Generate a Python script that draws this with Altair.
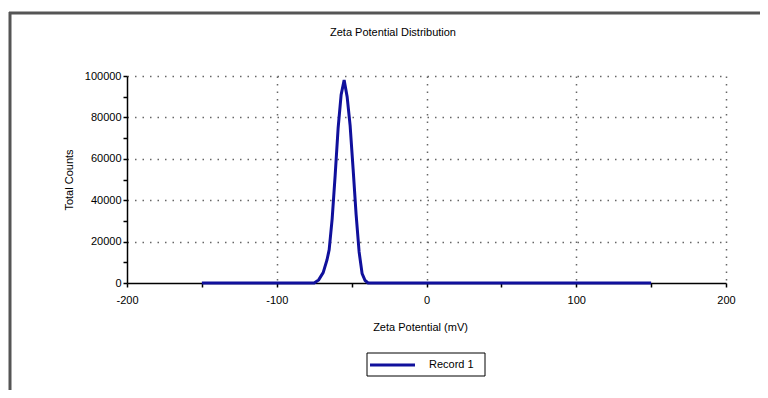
import altair as alt
import pandas as pd

# Data
zeta_mv = [-150, -75, -72, -69, -66.5, -65, -63, -61, -59, -57, -55, -53, -51, -49, -47, -45, -43, -41, -39, 150]
counts = [0, 0, 1500, 5000, 11000, 16000, 31000, 52000, 75000, 91000, 98000, 90000, 76000, 55000, 33000, 15000, 4500, 1200, 0, 0]
series_name = "Record 1"
chart_title = "Zeta Potential Distribution"

x_ticks = [-200, -150, -100, -50, 0, 50, 100, 150, 200]
y_ticks = list(range(0, 100001, 10000))

FONT = "Liberation Sans"
BLUE = "#10109c"

df = pd.DataFrame({"zeta": zeta_mv, "counts": counts, "series": [series_name] * len(zeta_mv)})

line = alt.Chart(df).mark_line(strokeWidth=3, clip=False, color=BLUE).encode(
    x=alt.X(
        "zeta:Q",
        scale=alt.Scale(domain=[-200, 200], nice=False, zero=False),
        axis=alt.Axis(
            title="Zeta Potential (mV)",
            values=x_ticks,
            labelExpr="datum.value % 100 === 0 ? '' + datum.value : ''",
            labelFlush=False,
            labelOverlap=False,
            grid=True,
            gridOpacity={"condition": {"test": "datum.value % 100 === 0 && datum.value > -200", "value": 1}, "value": 0},
            gridDash=[1.5, 6],
            gridColor="#666",
            gridWidth=1.5,
            domainColor="black",
            domainWidth=1.5,
            tickColor="black",
            tickSize=4,
            tickWidth=1.5,
            labelPadding=7,
            labelFontSize=11,
            labelFont=FONT,
            labelColor="black",
            titleFont=FONT,
            titleFontSize=11,
            titleFontWeight="normal",
            titleColor="black",
            titlePadding=16,
            titleX=293,
        ),
    ),
    y=alt.Y(
        "counts:Q",
        scale=alt.Scale(domain=[0, 100000], nice=False),
        axis=alt.Axis(
            title="Total Counts",
            values=y_ticks,
            labelExpr="datum.value % 20000 === 0 ? '' + datum.value : ''",
            labelFlush=False,
            labelOverlap=False,
            grid=True,
            gridOpacity={"condition": {"test": "datum.value % 20000 === 0 && datum.value > 0", "value": 1}, "value": 0},
            gridDash=[1.5, 6],
            gridColor="#666",
            gridWidth=1.5,
            domainColor="black",
            domainWidth=1.5,
            tickColor="black",
            tickSize=4,
            tickWidth=1.5,
            labelPadding=2,
            labelFontSize=11,
            labelFont=FONT,
            labelColor="black",
            titleFont=FONT,
            titleFontSize=11,
            titleFontWeight="normal",
            titleColor="black",
            titlePadding=10,
        ),
    ),
)

one = pd.DataFrame({"k": [0]})

# outer frame (top and left edges)
frame_top = alt.Chart(one).mark_rule(stroke="#555", strokeWidth=3, clip=False).encode(
    x=alt.value(-118), x2=alt.value(700), y=alt.value(-63)
)
frame_left = alt.Chart(one).mark_rule(stroke="#555", strokeWidth=3, clip=False).encode(
    x=alt.value(-117), y=alt.value(-64), y2=alt.value(400)
)

title = alt.Chart(one).mark_text(
    text=chart_title, font=FONT, fontSize=11, color="black", align="center", baseline="middle", clip=False
).encode(x=alt.value(266), y=alt.value(-43))

# legend box
legend_box = alt.Chart(one).mark_rect(
    fill="white", stroke="black", strokeWidth=1, clip=False
).encode(x=alt.value(240), x2=alt.value(358), y=alt.value(277), y2=alt.value(300))
legend_line = alt.Chart(one).mark_rule(stroke=BLUE, strokeWidth=3, clip=False).encode(
    x=alt.value(243), x2=alt.value(288), y=alt.value(289)
)
legend_text = alt.Chart(one).mark_text(
    text=series_name, font=FONT, fontSize=11, color="black", align="left", baseline="middle", clip=False
).encode(x=alt.value(302), y=alt.value(289))

chart = alt.layer(
    frame_top, frame_left, title, line, legend_box, legend_line, legend_text
).properties(
    width=599,
    height=207,
    padding={"left": 119, "top": 68, "right": 34, "bottom": 107},
    autosize=alt.AutoSizeParams(type="none"),
).configure_view(stroke=None)

chart.save("out.html", embed_options={"renderer": "svg", "actions": False})
